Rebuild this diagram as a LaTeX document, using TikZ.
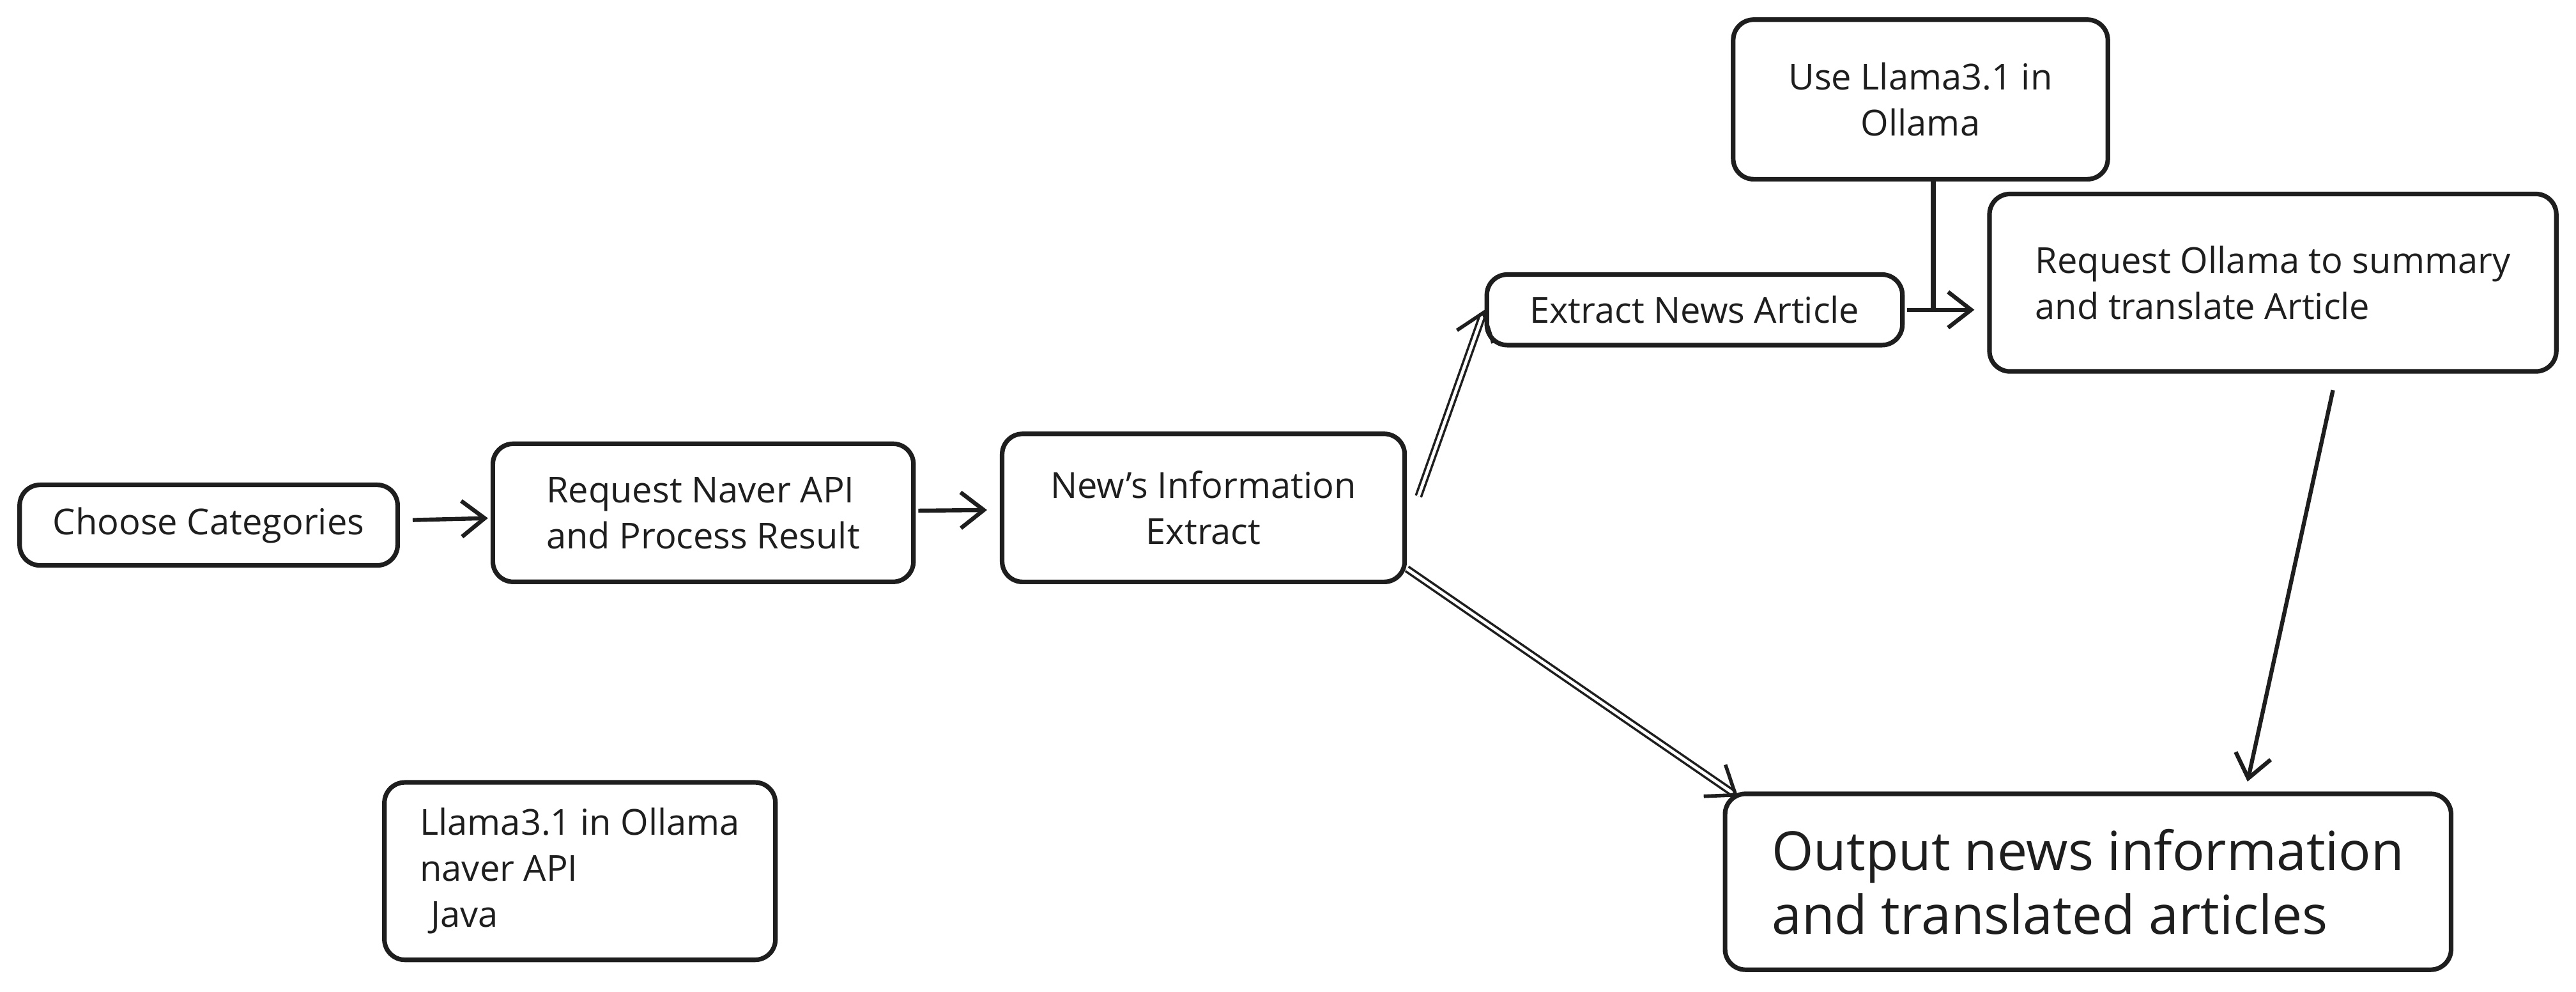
\documentclass[tikz,border=0pt]{standalone}
\usepackage{fontspec}
\setmainfont{Open Sans}
\usetikzlibrary{arrows.meta}
\definecolor{ink}{HTML}{1E1E1E}

\begin{document}
\begin{tikzpicture}[x=0.642857pt, y=-0.642857pt,
	box/.style={draw=ink, line width=1.8pt, rounded corners=8pt, align=left, text=ink,
		inner sep=0pt, font=\fontsize{14}{18}\selectfont},
	link/.style={draw=ink, line width=1.6pt, -{Straight Barb[length=9pt,width=14pt]}},
	twin/.style={draw=ink, double=white, double distance=1.2pt, line width=0.9pt,
		-{Straight Barb[length=10pt,width=15pt,line width=1.4pt]}}]
	% canvas 1568 x 603 (screen units)
	\useasboundingbox (0,0) rectangle (1568,603.2);

	% main row
	\node[box, minimum width=147.9pt, minimum height=31.5pt] (cat) at (127,319.5) {Choose Categories};
	\node[box, minimum width=164.6pt, minimum height=54pt] (naver) at (428,312) {Request Naver API\\and Process Result};
	\node[box, align=center, minimum width=157.5pt, minimum height=57.9pt] (news) at (732.5,309) {New's Information\\Extract};

	% article branch
	\node[box, minimum width=162.6pt, minimum height=27.6pt] (extract) at (1031.5,188.5) {Extract News Article};
	\node[box, align=center, minimum width=146.6pt, minimum height=62.4pt] (usellama) at (1169,60.5) {Use Llama3.1 in\\Ollama};
	\node[box, minimum width=221.8pt, minimum height=69.4pt] (summary) at (1383.5,172) {Request Ollama to summary\\and translate Article};

	% result
	\node[box, minimum width=284.1pt, minimum height=68.8pt, font=\fontsize{21}{25}\selectfont] (output) at (1271,536.5) {Output news information\\and translated articles};

	% tech stack
	\node[box, minimum width=153pt, minimum height=69.4pt] (stack) at (353,530) {Llama3.1 in Ollama\\naver API\\\hspace*{0.3em}Java};

	% connectors
	\draw[link, shorten <=5pt, shorten >=1pt] (cat) -- (naver);
	\draw[link, shorten <=1pt, shorten >=5pt] (naver) -- (news);
	\draw[twin] ([shift={(4.5pt,4.5pt)}]news.east) -- (extract.west);
	\draw[twin] ([yshift=6pt]news.south east) -- ([shift={(6pt,-2pt)}]output.north west);
	\draw[link, shorten <=1pt, shorten >=5pt] (extract.east) -- (extract.east -| summary.west);
	\coordinate (tap) at ([xshift=5pt]usellama.south);
	\draw[ink, line width=1.8pt] (tap) -- (tap |- extract.east);
	\draw[link] ([shift={(23.5pt,-6.4pt)}]summary.south) -- ([shift={(62.4pt,3.9pt)}]output.north);
\end{tikzpicture}
\end{document}
